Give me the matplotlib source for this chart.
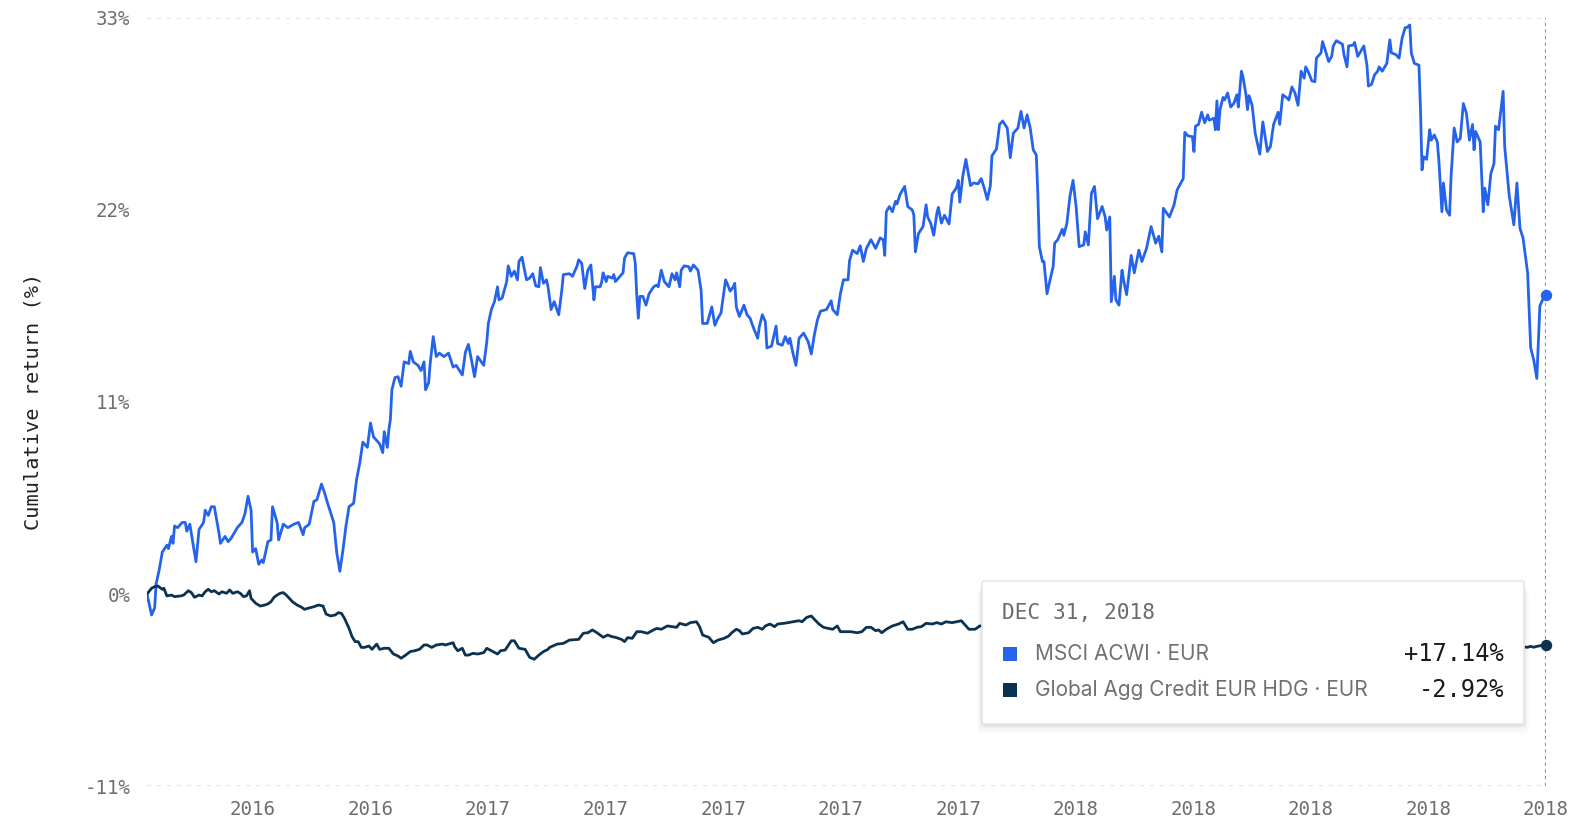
import numpy as np
import pandas as pd
import matplotlib
matplotlib.use("Agg")
import matplotlib.pyplot as plt
from matplotlib.patches import FancyBboxPatch, Rectangle

# period covered by the chart
START = pd.Timestamp("2016-06-30")
END = pd.Timestamp("2018-12-31")

# MSCI ACWI (EUR) cumulative return, % -- days since START
acwi_days = [
    0, 3, 5, 6, 8, 10, 13, 14, 16, 17, 18, 20, 23, 25, 26, 28, 30, 32, 34, 37,
    38, 40, 42, 44, 47, 48, 51, 53, 55, 59, 62, 64, 66, 68, 69, 71, 73, 75, 76, 79,
    81, 82, 85, 86, 89, 92, 96, 99, 102, 103, 106, 109, 111, 114, 116, 118, 122, 124, 126, 128,
    130, 132, 135, 137, 139, 141, 144, 146, 148, 150, 152, 154, 155, 157, 158, 159, 160, 162, 164, 166,
    168, 171, 172, 174, 177, 179, 181, 182, 184, 185, 187, 189, 191, 194, 197, 200, 202, 206, 208, 210,
    212, 214, 216, 220, 222, 223, 225, 227, 229, 230, 232, 235, 236, 238, 240, 242, 243, 245, 247, 248,
    250, 252, 254, 256, 257, 259, 261, 262, 264, 266, 269, 271, 272, 276, 278, 281, 282, 284, 286, 288,
    290, 292, 293, 296, 297, 298, 300, 301, 304, 305, 306, 309, 311, 312, 314, 318, 319, 320, 321, 322,
    324, 326, 328, 331, 333, 334, 336, 338, 341, 343, 345, 346, 348, 349, 351, 354, 355, 357, 360, 362,
    363, 366, 369, 371, 373, 375, 378, 379, 381, 383, 384, 385, 387, 390, 392, 394, 396, 399, 400, 402,
    404, 405, 408, 411, 412, 415, 417, 419, 420, 422, 424, 426, 429, 432, 434, 436, 438, 440, 444, 447,
    448, 451, 453, 455, 458, 459, 461, 464, 466, 468, 470, 473, 476, 479, 481, 482, 483, 485, 487, 489,
    490, 492, 495, 497, 500, 501, 502, 504, 507, 509, 510, 512, 514, 516, 517, 519, 521, 524, 526, 529,
    530, 531, 533, 535, 538, 540, 543, 545, 547, 549, 551, 552, 555, 557, 559, 562, 564, 566, 569, 571,
    573, 575, 577, 579, 581, 582, 583, 585, 586, 588, 590, 592, 593, 595, 598, 599, 601, 603, 605, 607,
    609, 612, 613, 615, 617, 619, 621, 624, 626, 627, 629, 630, 632, 633, 635, 637, 638, 640, 643, 645,
    648, 650, 653, 656, 659, 661, 663, 664, 668, 671, 673, 677, 678, 680, 683, 684, 685, 687, 689, 691,
    693, 694, 697, 698, 699, 700, 701, 703, 704, 706, 708, 710, 712, 713, 715, 716, 718, 719, 720, 722,
    724, 727, 729, 732, 734, 736, 739, 740, 742, 745, 746, 748, 750, 752, 754, 756, 757, 759, 761, 763,
    764, 767, 768, 770, 772, 774, 775, 777, 781, 782, 784, 785, 788, 789, 791, 793, 795, 797, 798, 800,
    802, 804, 805, 807, 810, 812, 813, 816, 818, 820, 822, 823, 825, 826, 828, 831, 832, 833, 834, 836,
    838, 839, 841, 843, 844, 846, 847, 849, 851, 852, 854, 856, 858, 860, 862, 864, 866, 867, 868, 871,
    873, 874, 876, 878, 880, 881, 883, 886, 887, 890, 893, 895, 897, 899, 902, 904, 906, 908, 910, 912,
    914,
]
acwi_ret = [
    0.0, -1.2, -0.8, 0.6, 1.4, 2.4, 2.8, 2.6, 3.3, 2.9, 3.9, 3.8, 4.1, 4.1, 3.6, 4.0, 2.9, 1.85, 3.7, 4.1,
    4.8, 4.5, 5.0, 5.0, 3.5, 2.9, 3.3, 3.0, 3.2, 3.8, 4.1, 4.6, 5.6, 4.8, 2.4, 2.6, 1.7, 1.95, 1.8, 3.0,
    3.1, 5.0, 4.1, 3.1, 4.0, 3.8, 4.0, 4.1, 3.4, 3.8, 4.0, 5.3, 5.4, 6.3, 5.8, 5.2, 4.1, 2.35, 1.3, 2.5,
    3.9, 5.0, 5.2, 6.6, 7.5, 8.7, 8.4, 9.8, 9.0, 8.8, 8.6, 8.1, 9.3, 8.4, 9.4, 10.0, 11.7, 12.4, 12.45, 11.9,
    13.3, 13.2, 13.9, 13.3, 13.1, 12.8, 13.3, 11.7, 12.1, 13.2, 14.75, 13.6, 13.8, 13.6, 13.8, 13.0, 13.1, 12.55, 13.85, 14.3,
    13.4, 12.45, 13.6, 13.1, 14.45, 15.5, 16.3, 16.75, 17.6, 16.85, 16.95, 17.9, 18.8, 18.2, 18.5, 18.0, 19.05, 19.3, 18.4, 18.0,
    18.1, 18.35, 17.65, 17.6, 18.7, 17.8, 18.0, 17.6, 16.3, 16.75, 16.0, 17.4, 18.3, 18.35, 18.2, 18.8, 19.15, 18.95, 17.5, 18.55,
    18.85, 16.85, 17.6, 17.6, 17.85, 18.4, 17.9, 18.2, 18.1, 18.3, 17.9, 18.2, 18.4, 19.25, 19.55, 19.5, 18.95, 17.05, 15.8, 17.05,
    17.05, 16.55, 17.2, 17.6, 17.7, 17.6, 18.55, 17.9, 17.6, 18.35, 18.0, 18.4, 17.6, 18.55, 18.8, 18.75, 18.5, 18.85, 18.55, 17.4,
    15.5, 15.5, 16.45, 15.4, 15.8, 16.1, 18.0, 17.8, 17.35, 17.6, 17.8, 16.45, 15.9, 16.55, 16.0, 15.8, 15.3, 14.65, 15.3, 16.0,
    15.6, 14.1, 14.2, 15.35, 14.35, 14.25, 14.75, 14.35, 14.65, 13.8, 13.1, 14.65, 14.95, 14.45, 13.75, 14.85, 15.7, 16.2, 16.3, 16.8,
    16.3, 16.0, 17.2, 18.0, 18.0, 19.1, 19.7, 19.5, 19.95, 19.05, 19.8, 20.3, 19.8, 20.4, 20.3, 19.4, 21.9, 22.2, 21.9, 22.5,
    22.35, 22.9, 23.35, 22.2, 22.0, 21.7, 19.6, 20.65, 21.05, 22.3, 21.6, 21.25, 20.55, 21.8, 22.15, 21.25, 21.7, 21.2, 22.9, 23.3,
    23.7, 22.45, 23.95, 24.9, 23.4, 23.55, 23.5, 23.8, 23.25, 22.6, 23.4, 25.1, 25.5, 26.9, 27.1, 26.7, 25.0, 26.4, 26.7, 27.65,
    26.7, 27.45, 26.7, 25.45, 25.15, 22.95, 19.9, 19.05, 19.05, 17.2, 18.0, 18.75, 20.1, 20.3, 20.9, 20.55, 21.25, 22.8, 23.7, 22.2,
    19.9, 20.0, 20.75, 20.0, 22.95, 23.35, 21.5, 22.2, 21.6, 20.85, 21.6, 16.75, 18.2, 16.85, 16.55, 18.55, 18.0, 17.15, 19.4, 18.4,
    19.7, 19.05, 19.8, 21.05, 20.1, 20.5, 19.6, 22.1, 21.6, 22.3, 23.15, 23.8, 26.45, 26.25, 26.2, 25.35, 26.8, 26.9, 27.6, 27.0,
    27.45, 27.15, 27.25, 26.6, 28.25, 26.6, 27.75, 28.45, 28.3, 28.7, 27.9, 28.1, 28.6, 27.9, 29.95, 29.65, 28.6, 27.75, 28.55, 28.0,
    26.4, 25.2, 27.05, 25.35, 25.65, 26.9, 27.6, 26.9, 28.6, 28.4, 28.3, 29.05, 28.7, 28.0, 29.95, 29.55, 30.2, 29.85, 29.4, 29.35,
    30.7, 31.0, 31.65, 31.1, 30.5, 30.8, 31.4, 31.7, 31.5, 30.9, 30.2, 31.4, 31.45, 31.6, 30.8, 31.1, 31.4, 30.3, 29.1, 29.2,
    29.75, 29.95, 30.2, 29.95, 30.4, 31.75, 31.0, 30.9, 30.7, 31.85, 32.45, 32.45, 32.6, 31.0, 30.4, 30.3, 27.75, 24.3, 25.05, 24.9,
    26.6, 26.0, 26.3, 25.9, 24.85, 21.9, 23.55, 22.0, 21.7, 23.95, 26.7, 25.9, 26.1, 28.1, 27.55, 26.0, 26.9, 25.45, 26.5, 25.9,
    21.9, 23.25, 22.3, 24.1, 24.65, 26.8, 26.6, 28.8, 25.65, 22.8, 21.15, 23.55, 20.95, 20.4, 18.4, 14.1, 13.4, 12.35, 16.5, 16.9,
    17.14,
]

# Global Agg Credit EUR HDG (EUR) cumulative return, %
credit_days = [
    0, 3, 5, 7, 10, 11, 13, 16, 18, 22, 24, 27, 29, 31, 34, 36, 38, 40, 42, 44,
    47, 49, 52, 54, 56, 59, 61, 63, 65, 67, 68, 71, 74, 77, 79, 81, 83, 85, 87, 89,
    91, 95, 98, 101, 103, 105, 109, 112, 115, 117, 120, 123, 125, 127, 129, 132, 134, 136, 138, 140,
    142, 145, 147, 150, 152, 155, 158, 161, 164, 166, 169, 172, 175, 178, 181, 183, 186, 189, 193, 195,
    197, 200, 201, 203, 206, 208, 210, 213, 216, 220, 222, 225, 229, 231, 234, 238, 240, 243, 247, 250,
    253, 256, 259, 262, 263, 268, 272, 276, 282, 285, 288, 291, 294, 298, 301, 304, 306, 310, 312, 314,
    317, 320, 323, 327, 330, 333, 336, 340, 343, 346, 348, 352, 355, 359, 361, 363, 367, 370, 373, 377,
    380, 382, 385, 387, 389, 393, 396, 399, 402, 404, 407, 410, 412, 416, 419, 422, 426, 428, 431, 434,
    436, 439, 442, 445, 448, 451, 453, 457, 460, 464, 467, 470, 473, 476, 478, 480, 483, 487, 491, 494,
    497, 500, 503, 506, 509, 513, 516, 519, 522, 526, 529, 532, 537, 541, 544, 560, 590, 620, 660, 700,
    740, 790, 830, 870, 902, 904, 906, 908, 911, 914,
]
credit_ret = [
    0.0, 0.33, 0.42, 0.46, 0.27, 0.33, -0.11, -0.06, -0.15, -0.11, -0.06, 0.19, 0.08, -0.19, -0.06, -0.11, 0.13, 0.27, 0.13, 0.19,
    0.0, 0.13, 0.04, 0.23, 0.04, 0.13, 0.04, -0.15, -0.11, 0.19, -0.25, -0.53, -0.69, -0.63, -0.57, -0.44, -0.19, -0.06, 0.04, 0.08,
    -0.06, -0.44, -0.63, -0.76, -0.88, -0.82, -0.73, -0.63, -0.69, -1.15, -1.26, -1.2, -1.07, -1.11, -1.39, -1.97, -2.45, -2.73, -2.73, -3.06,
    -3.06, -2.98, -3.17, -2.87, -3.17, -3.11, -3.11, -3.44, -3.55, -3.68, -3.5, -3.3, -3.25, -3.17, -2.92, -2.92, -3.06, -2.92, -2.87, -2.92,
    -2.87, -2.79, -3.02, -3.25, -3.11, -3.5, -3.5, -3.4, -3.44, -3.36, -3.11, -3.25, -3.44, -3.25, -3.21, -2.68, -2.68, -3.11, -3.17, -3.63,
    -3.74, -3.5, -3.3, -3.17, -3.06, -2.87, -2.83, -2.64, -2.6, -2.25, -2.22, -2.06, -2.22, -2.48, -2.35, -2.45, -2.48, -2.6, -2.73, -2.5,
    -2.54, -2.16, -2.16, -2.25, -2.1, -1.97, -2.02, -1.83, -1.87, -1.91, -1.68, -1.78, -1.64, -1.59, -1.87, -2.35, -2.48, -2.79, -2.64, -2.54,
    -2.41, -2.22, -2.02, -2.1, -2.29, -2.22, -1.97, -1.91, -2.02, -1.83, -1.72, -1.87, -1.72, -1.68, -1.64, -1.59, -1.53, -1.59, -1.34, -1.26,
    -1.45, -1.72, -1.91, -1.97, -2.02, -1.83, -2.16, -2.16, -2.16, -2.22, -2.16, -1.91, -1.91, -2.1, -2.06, -2.22, -2.02, -1.83, -1.72, -1.59,
    -2.02, -2.02, -1.91, -1.87, -1.68, -1.72, -1.64, -1.72, -1.59, -1.64, -1.59, -1.53, -2.02, -2.02, -1.83, -1.9, -2.3, -2.2, -2.4, -2.5,
    -2.6, -2.7, -2.6, -2.9, -3.05, -3.0, -3.05, -3.0, -2.95, -2.92,
]

x_tick_labels = ["2016", "2016", "2017", "2017", "2017", "2017",
                 "2017", "2018", "2018", "2018", "2018", "2018"]
y_ticks = [-11, 0, 11, 22, 33]

series_names = ["MSCI ACWI \u00b7 EUR", "Global Agg Credit EUR HDG \u00b7 EUR"]
series_last = ["+17.14%", "-2.92%"]
hover_label = "DEC 31, 2018"

BLUE = "#2563eb"
NAVY = "#0b3250"
MONO = "DejaVu Sans Mono"

plt.rcParams["font.family"] = [MONO]

W, H = 1580, 832
fig = plt.figure(figsize=(W / 100, H / 100), dpi=100)
ax = fig.add_axes([147 / W, 1 - 786 / H, (1546 - 147) / W, (786 - 18) / H])

acwi_x = START + pd.to_timedelta(acwi_days, unit="D")
credit_x = START + pd.to_timedelta(credit_days, unit="D")

ax.plot(acwi_x, acwi_ret, color=BLUE, lw=2.0, solid_joinstyle="round", zorder=3)
ax.plot(credit_x, credit_ret, color=NAVY, lw=2.0, solid_joinstyle="round", zorder=3)
ax.plot([acwi_x[-1]], [acwi_ret[-1]], "o", ms=7.2, color=BLUE, zorder=6, clip_on=False)
ax.plot([credit_x[-1]], [credit_ret[-1]], "o", ms=7.2, color=NAVY, zorder=6, clip_on=False)

ax.set_xlim(START, END)
ax.set_ylim(-11, 33)

# only top and bottom dashed guides
for yv in (y_ticks[0], y_ticks[-1]):
    ax.axhline(yv, color="#d9d9d9", lw=1.1, ls=(0, (2.6, 3.9)), zorder=1)
# hover line
ax.axvline(END, color="#959595", lw=1.6, ls=(0, (1.5, 1.5)), zorder=2)

tick_days = np.linspace(69.2, 914, len(x_tick_labels))
ax.set_xticks(START + pd.to_timedelta(tick_days, unit="D"))
ax.set_xticklabels(x_tick_labels)
ax.set_yticks(y_ticks)
ax.set_yticklabels([f"{v}%" for v in y_ticks])
ax.tick_params(axis="both", length=0, labelsize=13.8, labelcolor="#6e6e6e")
ax.tick_params(axis="x", pad=10)
ax.tick_params(axis="y", pad=12)
for s in ax.spines.values():
    s.set_visible(False)

fig.text(33 / W, 1 - 401 / H, "Cumulative return (%)", rotation=90,
         ha="center", va="center", fontsize=14.6, color="#222222")


def fx(px):
    return px / W


def fy(py):
    return 1 - py / H


# tooltip
bx0, by0, bx1, by1 = 982, 581, 1524, 724
for off, a in [(10, 0.015), (7, 0.025), (4, 0.035), (2, 0.05)]:
    sh = FancyBboxPatch((fx(bx0 - off / 2), fy(by1 + off)), fx(bx1 - bx0 + off), (by1 - by0) / H,
                        boxstyle="round,pad=0,rounding_size=0.004", transform=fig.transFigure,
                        facecolor="black", edgecolor="none", alpha=a, zorder=7)
    fig.add_artist(sh)
box = FancyBboxPatch((fx(bx0), fy(by1)), fx(bx1 - bx0), (by1 - by0) / H,
                     boxstyle="round,pad=0,rounding_size=0.002", transform=fig.transFigure,
                     facecolor="white", edgecolor="#e6e6e6", lw=1.2, zorder=8)
fig.add_artist(box)

fig.text(fx(1002), fy(613), hover_label, ha="left", va="center", fontsize=15.2,
         color="#6b6b6b", zorder=9)
row_y = [654, 690]
for name, val, col, ry in zip(series_names, series_last, [BLUE, NAVY], row_y):
    fig.add_artist(Rectangle((fx(1003), fy(ry + 7)), fx(14), 14 / H, transform=fig.transFigure,
                             facecolor=col, edgecolor="none", zorder=9))
    fig.text(fx(1035), fy(ry), name, ha="left", va="center", fontsize=15,
             family=["Inter", "DejaVu Sans"], color="#707070", zorder=9)
    fig.text(fx(1504), fy(ry), val, ha="right", va="center", fontsize=17,
             color="#1a1a1a", zorder=9)

fig.savefig("out.png", dpi=100, facecolor="white")
